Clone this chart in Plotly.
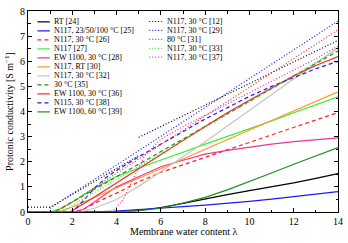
import plotly.graph_objects as go

# ---------------- data ----------------
x_rt24 = [0, 3, 4, 5, 6, 7, 8, 9, 10, 11, 12, 13, 14]
y_rt24 = [0, 0, 0.02, 0.06, 0.18, 0.34, 0.52, 0.69, 0.85, 1.0, 1.16, 1.34, 1.53]

x_n117_25 = [0, 2, 3, 4, 5, 6, 7, 8, 9, 10, 11, 12, 13, 14]
y_n117_25 = [0, 0, 0.01, 0.04, 0.09, 0.15, 0.21, 0.27, 0.34, 0.42, 0.51, 0.61, 0.71, 0.81]

x_n117_26 = [0, 2, 2.5, 3, 4, 5, 6, 7, 8, 9, 10, 11, 12, 13, 14]
y_n117_26 = [0, 0, 0.1, 0.35, 0.75, 1.2, 1.58, 1.88, 2.18, 2.48, 2.78, 3.08, 3.38, 3.67, 3.96]

x_n117_27 = [0, 1, 1.5, 2, 3, 4, 5, 6, 7, 8, 9, 10, 11, 12, 13, 14]
y_n117_27 = [0, 0, 0.15, 0.4, 0.95, 1.42, 1.75, 2.05, 2.38, 2.7, 3.0, 3.3, 3.62, 3.95, 4.27, 4.58]

x_ew_28 = [0, 2, 2.5, 3, 4, 5, 6, 7, 8, 9, 10, 11, 12, 13, 14]
y_ew_28 = [0, 0, 0.1, 0.4, 1.0, 1.4, 1.8, 2.06, 2.3, 2.45, 2.58, 2.7, 2.8, 2.88, 2.95]

x_n117_30 = [0, 1.4, 2, 4, 6, 8, 10, 12, 14]
y_n117_30 = [0, 0, 0.2, 0.95, 1.72, 2.5, 3.27, 4.03, 4.78]

x_n117_32 = [0, 2.4, 3, 4, 5, 6, 7, 8, 9, 10, 11, 12, 13, 14]
y_n117_32 = [0, 0, 0.15, 0.5, 1.02, 1.6, 2.2, 2.8, 3.42, 4.03, 4.65, 5.28, 5.92, 6.55]

x_35 = [0, 1.2, 14]
y_35 = [0, 0, 6.41]

x_ew_36 = [0, 1.9, 3, 4, 5, 6, 7, 8, 9, 10, 11, 12, 13, 14]
y_ew_36 = [0, 0, 0.6, 1.17, 1.73, 2.3, 2.85, 3.4, 3.95, 4.45, 4.95, 5.42, 5.83, 6.19]

x_n115_38 = [0, 2.0, 2.5, 3, 3.5, 4, 5, 6, 7, 8, 9, 10, 11, 12, 13, 14]
y_n115_38 = [0, 0, 0.45, 0.95, 1.35, 1.65, 2.2, 2.7, 3.2, 3.7, 4.15, 4.6, 5.0, 5.35, 5.7, 6.0]

x_ew_39 = [0, 3, 4, 5, 6, 7, 8, 9, 10, 11, 12, 13, 14]
y_ew_39 = [0, 0, 0.01, 0.05, 0.15, 0.35, 0.58, 0.88, 1.2, 1.55, 1.9, 2.23, 2.56]

x_n117_12 = [0, 1, 2, 3, 4, 5, None, 5, 14]
y_n117_12 = [0.19, 0.19, 0.7, 1.22, 1.73, 2.24, None, 2.97, 6.83]

x_n117_29 = [1, 14]
y_n117_29 = [0.15, 7.6]

x_80_31 = [1.3, 14]
y_80_31 = [0, 7.25]

x_n117_33 = [1.5, 14]
y_n117_33 = [0, 6.47]

x_n117_37 = [0, 3.8, 4.3, 4.8, 5.3, 6, 7, 8, 9, 10, 11, 12, 13, 14]
y_n117_37 = [0, 0, 0.5, 1.4, 2.3, 2.9, 3.4, 3.85, 4.3, 4.75, 5.2, 5.65, 6.1, 6.6]

x_ticks = [0, 2, 4, 6, 8, 10, 12, 14]
y_ticks = [0, 1, 2, 3, 4, 5, 6, 7, 8]

# ---------------- styles ----------------
BLACK = "#000000"
BLUE = "#1a1aff"
RED = "#ff2222"
LIME = "#33ee33"
PINK = "#ee3399"
ORANGE = "#ff9922"
GRAY = "#c4c4c4"
DKGREEN = "#1f8f1f"
DOT = "1px,2px"
DASH = "4px,3px"

left_series = [
    ("RT [24]", x_rt24, y_rt24, BLACK, "solid"),
    ("N117, 23/50/100 °C [25]", x_n117_25, y_n117_25, BLUE, "solid"),
    ("N117, 30 °C [26]", x_n117_26, y_n117_26, RED, DASH),
    ("N117 [27]", x_n117_27, y_n117_27, LIME, "solid"),
    ("EW 1100, 30 °C [28]", x_ew_28, y_ew_28, PINK, "solid"),
    ("N117, RT [30]", x_n117_30, y_n117_30, ORANGE, "solid"),
    ("N117, 30 °C [32]", x_n117_32, y_n117_32, GRAY, "solid"),
    ("30 °C [35]", x_35, y_35, DKGREEN, DASH),
    ("EW 1100, 30 °C [36]", x_ew_36, y_ew_36, RED, "solid"),
    ("N115, 30 °C [38]", x_n115_38, y_n115_38, BLUE, DASH),
    ("EW 1100, 60 °C [39]", x_ew_39, y_ew_39, DKGREEN, "solid"),
]
right_series = [
    ("N117, 30 °C [12]", x_n117_12, y_n117_12, BLACK, DOT),
    ("N117, 30 °C [29]", x_n117_29, y_n117_29, BLUE, DOT),
    ("80 °C [31]", x_80_31, y_80_31, RED, DOT),
    ("N117, 30 °C [33]", x_n117_33, y_n117_33, LIME, DOT),
    ("N117, 30 °C [37]", x_n117_37, y_n117_37, PINK, DOT),
]

FONT = "Liberation Serif, DejaVu Serif, serif"
W, H = 348, 243
ML, MR, MT, MB = 28, 8, 5, 31
PW, PH = W - ML - MR, H - MT - MB

fig = go.Figure()
for name, xs, ys, col, dash in left_series + right_series:
    fig.add_trace(go.Scatter(x=xs, y=ys, mode="lines", name=name,
                             line=dict(color=col, width=1.2, dash=dash),
                             showlegend=False, hoverinfo="skip"))

# ---------------- manual legend ----------------
shapes, annotations = [], []

def px2paper_x(px):
    return (px - ML) / PW

def px2paper_y(py):
    return (MT + PH - py) / PH

def add_column(series, x0, x1, xt, y0, step):
    for i, (name, xs, ys, col, dash) in enumerate(series):
        py = y0 + step * i
        shapes.append(dict(type="line", xref="paper", yref="paper",
                           x0=px2paper_x(x0), x1=px2paper_x(x1),
                           y0=px2paper_y(py), y1=px2paper_y(py),
                           line=dict(color=col, width=1.2, dash=dash)))
        annotations.append(dict(text=name, xref="paper", yref="paper",
                                x=px2paper_x(xt), y=px2paper_y(py),
                                xanchor="left", yanchor="middle", showarrow=False,
                                font=dict(family=FONT, size=8, color="#000000")))

add_column(left_series, 37.5, 50, 52, 16.2, 9.27)
add_column(right_series, 150, 163, 165.5, 15.8, 9.2)

# x-axis title placed as annotation for exact position
annotations.append(dict(text="Membrane water content λ", xref="paper", yref="paper",
                        x=0.5, y=px2paper_y(232), xanchor="center", yanchor="middle",
                        showarrow=False, font=dict(family=FONT, size=10, color="black")))

axis_common = dict(showline=True, linecolor="black", linewidth=1, mirror="allticks",
                   ticks="inside", ticklen=4, tickcolor="black", tickwidth=0.8,
                   showgrid=False, zeroline=False,
                   tickfont=dict(family=FONT, size=10, color="black"))

fig.update_layout(
    width=W, height=H,
    margin=dict(l=ML, r=MR, t=MT, b=MB),
    paper_bgcolor="white", plot_bgcolor="white",
    shapes=shapes, annotations=annotations,
    xaxis=dict(range=[-0.0001, 14.0001], tickvals=x_ticks, ticktext=[str(v) for v in x_ticks],
               minor=dict(dtick=1, tick0=0, ticks="inside", ticklen=2.5, tickcolor="black"),
               **axis_common),
    yaxis=dict(range=[-0.0001, 8.0001], tickvals=y_ticks, ticktext=[str(v) for v in y_ticks],
               minor=dict(dtick=0.5, tick0=0, ticks="inside", ticklen=2.5, tickcolor="black"),
               title=dict(text="Protonic conductivity [S m<sup>−1</sup>]", standoff=4,
                          font=dict(family=FONT, size=10, color="black")),
               **axis_common),
    showlegend=False,
)

fig.write_html("out.html",
               config={"displayModeBar": False},
               post_script="document.body.style.margin='0';document.body.style.overflow='hidden';")
